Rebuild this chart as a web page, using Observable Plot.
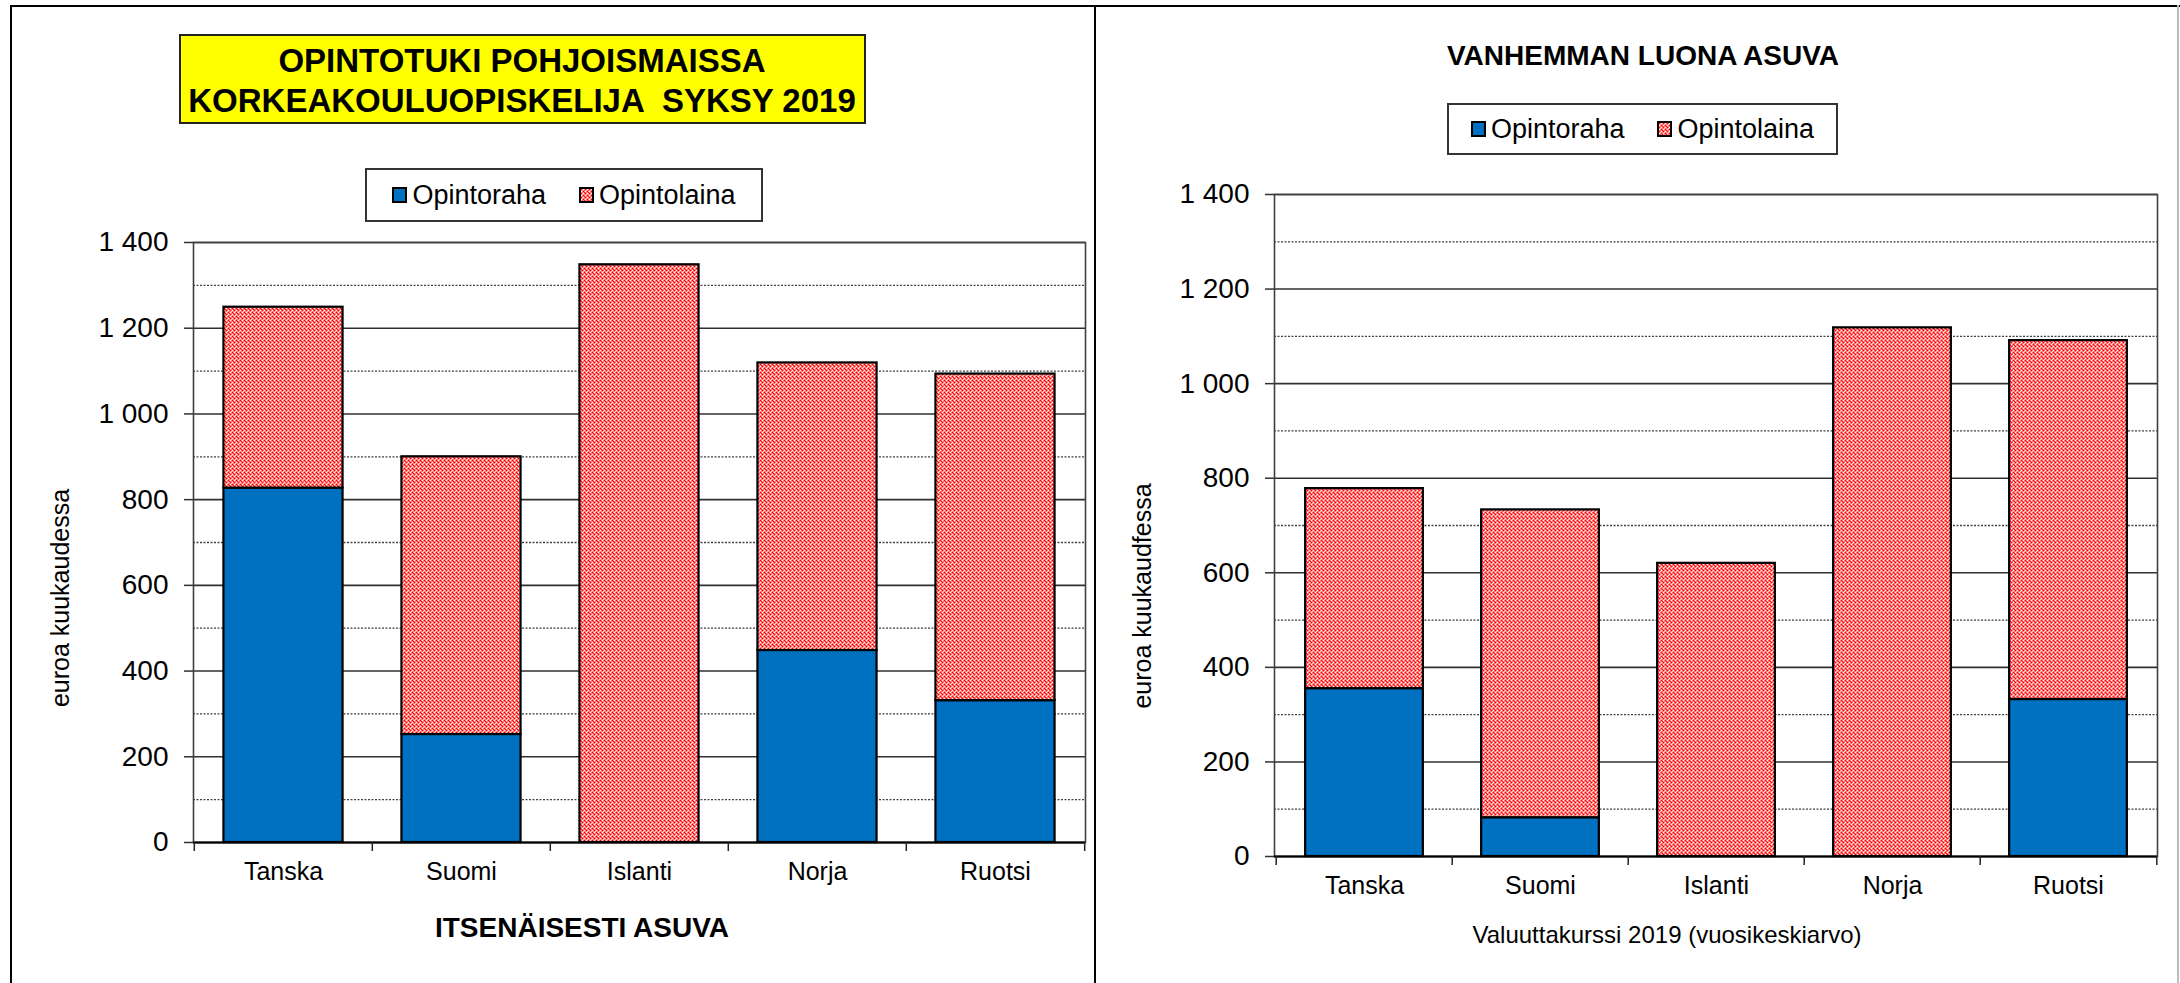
<!DOCTYPE html>
<html>
<head>
<meta charset="utf-8">
<script src="https://cdn.jsdelivr.net/npm/d3@7"></script>
<script src="https://cdn.jsdelivr.net/npm/@observablehq/plot@0.6"></script>
<style>
  body { margin: 0; background: #fff; font-family: Arial, "Liberation Sans", sans-serif; }
  #page { position: relative; width: 2180px; height: 983px; overflow: hidden; background: #fff; }
  .lbl { position: absolute; transform: translate(-50%, -50%); line-height: 1; white-space: pre; color: #000; }
  .line { position: absolute; z-index: 5; }
  .chart { position: absolute; top: 0; }
  .legend { position: absolute; box-sizing: border-box; border: 2px solid #333; background: #fff;
            display: flex; align-items: center; justify-content: center; font-size: 27px; }
  .item { display: flex; align-items: center; }
  .item + .item { margin-left: 33px; }
  .item svg { margin-right: 5px; }
</style>
</head>
<body>
<svg width="0" height="0" style="position:absolute">
  <defs>
    <pattern id="laina" patternUnits="userSpaceOnUse" width="4" height="4">
      <rect width="4" height="4" fill="#ff7878"></rect>
      <rect x="0" y="0" width="1" height="1" fill="#ff0000"></rect>
      <rect x="2" y="2" width="1" height="1" fill="#ff0000"></rect>
      <rect x="1" y="1" width="1" height="1" fill="#ff1010"></rect>
      <rect x="2" y="0" width="1" height="1" fill="#ffffff"></rect>
      <rect x="0" y="2" width="1" height="1" fill="#ffffff"></rect>
      <rect x="3" y="3" width="1" height="1" fill="#ffc8c8"></rect>
    </pattern>
  </defs>
</svg>
<div id="page"></div>
<script>
// ---- data ----
const categories = ["Tanska", "Suomi", "Islanti", "Norja", "Ruotsi"];
const seriesNames = ["Opintoraha", "Opintolaina"];
const seriesColors = ["#0070c0", "url(#laina)"];

// left: ITSENÄISESTI ASUVA
const leftRaha  = [827, 252, 0, 448, 331];
const leftLaina = [422, 648, 1348, 671, 762];
// right: VANHEMMAN LUONA ASUVA
const rightRaha  = [355, 82, 0, 0, 332];
const rightLaina = [423, 651, 620, 1118, 759];

const majorTicks = [0, 200, 400, 600, 800, 1000, 1200, 1400];
const majorTickLabels = ["0", "200", "400", "600", "800", "1 000", "1 200", "1 400"];
const minorTicks = [100, 300, 500, 700, 900, 1100, 1300];

const leftTitle = ["OPINTOTUKI POHJOISMAISSA", "KORKEAKOULUOPISKELIJA  SYKSY 2019"];
const leftXTitle = "ITSENÄISESTI ASUVA";
const leftYTitle = "euroa kuukaudessa";
const rightTitle = "VANHEMMAN LUONA ASUVA";
const rightXTitle = "Valuuttakurssi 2019 (vuosikeskiarvo)";
const rightYTitle = "euroa kuukaudfessa";

const page = document.getElementById("page");

function chart({raha, laina, left, width, height, mL, mR, mT, mB}) {
  const rows = [];
  categories.forEach((c, i) => {
    rows.push({cat: c, series: seriesNames[0], value: raha[i]});
    rows.push({cat: c, series: seriesNames[1], value: laina[i]});
  });
  const step = (width - mL - mR) / categories.length;
  const inset = step * 0.165;
  const last = categories[categories.length - 1];
  const svg = Plot.plot({
    width, height,
    marginLeft: mL, marginRight: mR, marginTop: mT, marginBottom: mB,
    style: {background: "none", fontFamily: "Arial, 'Liberation Sans', sans-serif", overflow: "visible", color: "#000"},
    x: {domain: categories, padding: 0, label: null},
    y: {domain: [0, 1400], label: null},
    color: {domain: seriesNames, range: seriesColors},
    marks: [
      Plot.ruleY(minorTicks, {stroke: "#404040", strokeWidth: 1.3, strokeDasharray: "2,1.5"}),
      Plot.ruleY(majorTicks, {stroke: "#303030", strokeWidth: 1.6}),
      Plot.frame({stroke: "#404040", strokeWidth: 1.6}),
      Plot.barY(rows, {x: "cat", y: "value", fill: "series", stroke: "#000", strokeWidth: 2.2,
                       insetLeft: inset, insetRight: inset}),
      Plot.ruleY([0], {stroke: "#000", strokeWidth: 2}),
      Plot.ruleX(categories, {x: d => d, y1: 0, y2: 0, insetBottom: -9, dx: -step / 2, stroke: "#222", strokeWidth: 1.5}),
      Plot.ruleX([last], {x: d => d, y1: 0, y2: 0, insetBottom: -9, dx: step / 2, stroke: "#222", strokeWidth: 1.5}),
      Plot.axisY(majorTicks, {tickSize: 9, tickPadding: 16, fontSize: 28, stroke: "#303030", strokeWidth: 1.5,
                              tickFormat: d => majorTickLabels[majorTicks.indexOf(d)], label: null}),
      Plot.axisX({tickSize: 0, tickPadding: 20, fontSize: 25, label: null})
    ]
  });
  const wrap = document.createElement("div");
  wrap.className = "chart";
  wrap.style.left = left + "px";
  wrap.style.width = width + "px";
  wrap.appendChild(svg);
  page.appendChild(wrap);
}

function label(text, cx, cy, size, bold, rotate) {
  const d = document.createElement("div");
  d.className = "lbl";
  d.textContent = text;
  d.style.left = cx + "px";
  d.style.top = cy + "px";
  d.style.fontSize = size + "px";
  if (bold) d.style.fontWeight = "bold";
  if (rotate) d.style.transform = "translate(-50%, -50%) rotate(-90deg)";
  page.appendChild(d);
  return d;
}

function legend(left, top, width, height) {
  const box = document.createElement("div");
  box.className = "legend";
  Object.assign(box.style, {left: left + "px", top: top + "px", width: width + "px", height: height + "px"});
  seriesNames.forEach((name, i) => {
    const it = document.createElement("div");
    it.className = "item";
    it.innerHTML = `<svg width="15" height="16"><rect x="1" y="1" width="13" height="14" fill="${seriesColors[i]}" stroke="#000" stroke-width="2"></rect></svg><span>${name}</span>`;
    box.appendChild(it);
  });
  page.appendChild(box);
}

function line(l, t, w, h, c) {
  const d = document.createElement("div");
  d.className = "line";
  Object.assign(d.style, {left: l + "px", top: t + "px", width: w + "px", height: h + "px", background: c});
  page.appendChild(d);
}

// ---- charts ----
chart({raha: leftRaha, laina: leftLaina, left: 0, width: 1097, height: 983, mL: 193, mR: 12, mT: 242, mB: 141});
chart({raha: rightRaha, laina: rightLaina, left: 1097, width: 1083, height: 983, mL: 177, mR: 23, mT: 194, mB: 127});

// ---- left panel texts ----
const tb = document.createElement("div");
Object.assign(tb.style, {position: "absolute", left: "179px", top: "34px", width: "687px", height: "90px",
  boxSizing: "border-box", background: "#ffff00", border: "2px solid #222"});
page.appendChild(tb);
label(leftTitle[0], 522, 60, 33, true);
label(leftTitle[1], 522, 100, 33, true);
legend(365, 168, 398, 54);
label(leftXTitle, 582, 928, 28, true);
label(leftYTitle, 60, 598, 25, false, true);

// ---- right panel texts ----
label(rightTitle, 1643, 56, 28, true);
legend(1447, 103, 391, 52);
label(rightXTitle, 1667, 935, 24, false);
label(rightYTitle, 1142, 596, 25, false, true);

// ---- panel borders ----
line(10, 5, 2170, 2, "#000");
line(10, 5, 2, 978, "#000");
line(1094, 5, 2, 978, "#000");
line(2177, 5, 2, 978, "#bdbdbd");
</script>
</body>
</html>
